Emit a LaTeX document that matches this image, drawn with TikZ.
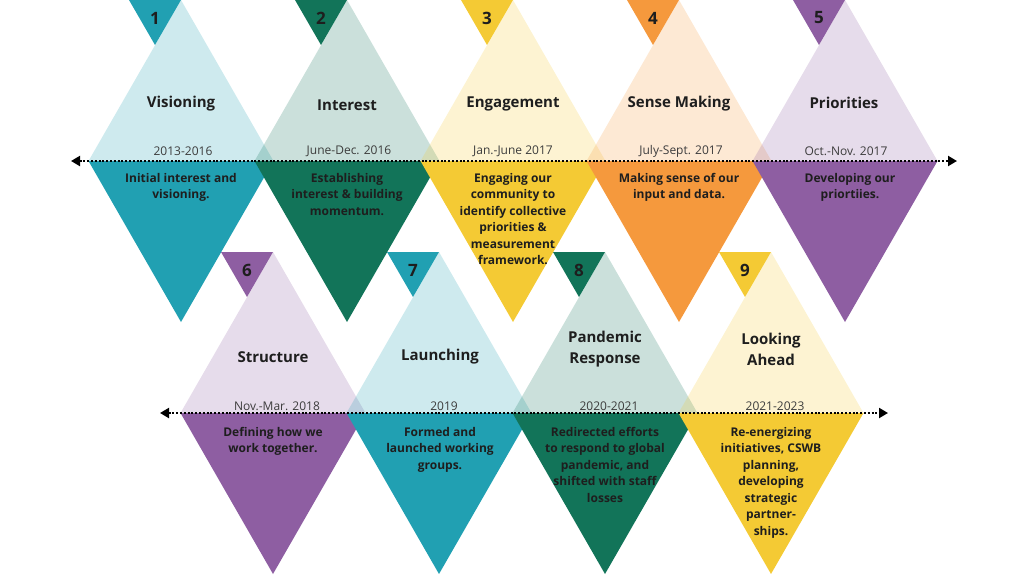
\documentclass[tikz,border=0pt]{standalone}
\usepackage{fontspec}
\setmainfont{Open Sans}
\usepackage{xcolor}
\usepackage{tikz}
\usetikzlibrary{calc,arrows.meta}
\definecolor{vteal}{RGB}{33,160,178}
\definecolor{vgreen}{RGB}{18,116,89}
\definecolor{vyellow}{RGB}{244,202,52}
\definecolor{vorange}{RGB}{245,153,61}
\definecolor{vpurple}{RGB}{142,94,162}
\definecolor{vtext}{RGB}{30,30,30}
\definecolor{vdate}{RGB}{60,60,60}

\begin{document}
\begin{tikzpicture}[x=1pt,y=-1pt,
	upper/.style={fill opacity=.22},
	stage/.style={font=\bfseries\fontsize{15}{21}\selectfont,text=vtext,align=center,inner sep=0pt},
	period/.style={font=\fontsize{12}{14}\selectfont,text=vdate,inner sep=0pt},
	about/.style={font=\bfseries\fontsize{12}{16.5}\selectfont,text=vtext,align=center,anchor=north,inner sep=0pt},
	num/.style={font=\bfseries\fontsize{17}{19}\selectfont,text=vtext,inner sep=0pt},
	timeline/.style={line width=2pt,dash pattern=on 2pt off 1.8pt,
		{Triangle[length=9pt,width=10pt]}-{Triangle[length=9pt,width=10pt]}}]
	\useasboundingbox (0,0) rectangle (1024,576);
	
	\coordinate (M1) at (181,161);
	\coordinate (M2) at (347,161);
	\coordinate (M3) at (513,161);
	\coordinate (M4) at (679,161);
	\coordinate (M5) at (845,161);
	\coordinate (M6) at (273,413);
	\coordinate (M7) at (439,413);
	\coordinate (M8) at (605,413);
	\coordinate (M9) at (771,413);
	
	% upper halves
	\fill[vteal,upper] (M1) ++(-92.5,0) -- ++(92.5,-161) -- ++(92.5,161) -- cycle;
	\fill[vgreen,upper] (M2) ++(-92.5,0) -- ++(92.5,-161) -- ++(92.5,161) -- cycle;
	\fill[vyellow,upper] (M3) ++(-92.5,0) -- ++(92.5,-161) -- ++(92.5,161) -- cycle;
	\fill[vorange,upper] (M4) ++(-92.5,0) -- ++(92.5,-161) -- ++(92.5,161) -- cycle;
	\fill[vpurple,upper] (M5) ++(-92.5,0) -- ++(92.5,-161) -- ++(92.5,161) -- cycle;
	\fill[vpurple,upper] (M6) ++(-92.5,0) -- ++(92.5,-161) -- ++(92.5,161) -- cycle;
	\fill[vteal,upper] (M7) ++(-92.5,0) -- ++(92.5,-161) -- ++(92.5,161) -- cycle;
	\fill[vgreen,upper] (M8) ++(-92.5,0) -- ++(92.5,-161) -- ++(92.5,161) -- cycle;
	\fill[vyellow,upper] (M9) ++(-92.5,0) -- ++(92.5,-161) -- ++(92.5,161) -- cycle;
	
	% lower halves
	\fill[vteal] (M1) ++(-92.5,0) -- ++(92.5,161) -- ++(92.5,-161) -- cycle;
	\fill[vgreen] (M2) ++(-92.5,0) -- ++(92.5,161) -- ++(92.5,-161) -- cycle;
	\fill[vyellow] (M3) ++(-92.5,0) -- ++(92.5,161) -- ++(92.5,-161) -- cycle;
	\fill[vorange] (M4) ++(-92.5,0) -- ++(92.5,161) -- ++(92.5,-161) -- cycle;
	\fill[vpurple] (M5) ++(-92.5,0) -- ++(92.5,161) -- ++(92.5,-161) -- cycle;
	\fill[vpurple] (M6) ++(-92.5,0) -- ++(92.5,161) -- ++(92.5,-161) -- cycle;
	\fill[vteal] (M7) ++(-92.5,0) -- ++(92.5,161) -- ++(92.5,-161) -- cycle;
	\fill[vgreen] (M8) ++(-92.5,0) -- ++(92.5,161) -- ++(92.5,-161) -- cycle;
	\fill[vyellow] (M9) ++(-92.5,0) -- ++(92.5,161) -- ++(92.5,-161) -- cycle;
	
	% number flags
	\fill[vteal] (M1) ++(-52,-161) -- ++(52,0) -- ++(-26,45) -- cycle;
	\fill[vgreen] (M2) ++(-52,-161) -- ++(52,0) -- ++(-26,45) -- cycle;
	\fill[vyellow] (M3) ++(-52,-161) -- ++(52,0) -- ++(-26,45) -- cycle;
	\fill[vorange] (M4) ++(-52,-161) -- ++(52,0) -- ++(-26,45) -- cycle;
	\fill[vpurple] (M5) ++(-52,-161) -- ++(52,0) -- ++(-26,45) -- cycle;
	\fill[vpurple] (M6) ++(-52,-161) -- ++(52,0) -- ++(-26,45) -- cycle;
	\fill[vteal] (M7) ++(-52,-161) -- ++(52,0) -- ++(-26,45) -- cycle;
	\fill[vgreen] (M8) ++(-52,-161) -- ++(52,0) -- ++(-26,45) -- cycle;
	\fill[vyellow] (M9) ++(-52,-161) -- ++(52,0) -- ++(-26,45) -- cycle;
	
	% timelines
	\coordinate (A) at (71,161);
	\coordinate (B) at (957,161);
	\coordinate (C) at (160,413);
	\coordinate (D) at (888,413);
	\draw[timeline] (A) -- (B);
	\draw[timeline] (C) -- (D);
	
	\node[num] (n1) at (155,18) {1};
	\node[num] (n2) at (321,18) {2};
	\node[num] (n3) at (487,18) {3};
	\node[num] (n4) at (653,18) {4};
	\node[num] (n5) at (819,18) {5};
	\node[num] (n6) at (247,270) {6};
	\node[num] (n7) at (413,270) {7};
	\node[num] (n8) at (579,270) {8};
	\node[num] (n9) at (745,270) {9};
	
	\node[stage] (s1) at (181,104) {Visioning};
	\node[stage] (s2) at (347,105) {Interest};
	\node[stage] (s3) at (513,104) {Engagement};
	\node[stage] (s4) at (679,104) {Sense Making};
	\node[stage] (s5) at (844,103) {Priorities};
	\node[stage] (s6) at (273,357) {Structure};
	\node[stage] (s7) at (440,357) {Launching};
	\node[stage] (s8) at (605,349) {Pandemic\\Response};
	\node[stage] (s9) at (771,349) {Looking\\Ahead};
	
	\node[period] (p1) at (183,151) {2013-2016};
	\node[period] (p2) at (349,151) {June-Dec. 2016};
	\node[period] (p3) at (513,151) {Jan.-June 2017};
	\node[period] (p4) at (681,151) {July-Sept. 2017};
	\node[period] (p5) at (846,151) {Oct.-Nov. 2017};
	\node[period] (p6) at (277,406) {Nov.-Mar. 2018};
	\node[period] (p7) at (444,406) {2019};
	\node[period] (p8) at (609,406) {2020-2021};
	\node[period] (p9) at (775,406) {2021-2023};
	
	\node[about] (d1) at (181,173) {Initial interest and\\visioning.};
	\node[about] (d2) at (347,173) {Establishing\\interest \& building\\momentum.};
	\node[about] (d3) at (513,173) {Engaging our\\community to\\identify collective\\priorities \&\\measurement\\framework.};
	\node[about] (d4) at (679,173) {Making sense of our\\input and data.};
	\node[about] (d5) at (850,173) {Developing our\\priortiies.};
	\node[about] (d6) at (273,427) {Defining how we\\work together.};
	\node[about] (d7) at (440,427) {Formed and\\launched working\\groups.};
	\node[about] (d8) at (605,427) {Redirected efforts\\to respond to global\\pandemic, and\\shifted with staff\\losses};
	\node[about] (d9) at (771,427) {Re-energizing\\initiatives, CSWB\\planning,\\developing\\strategic\\partner-\\ships.};
\end{tikzpicture}
\end{document}
